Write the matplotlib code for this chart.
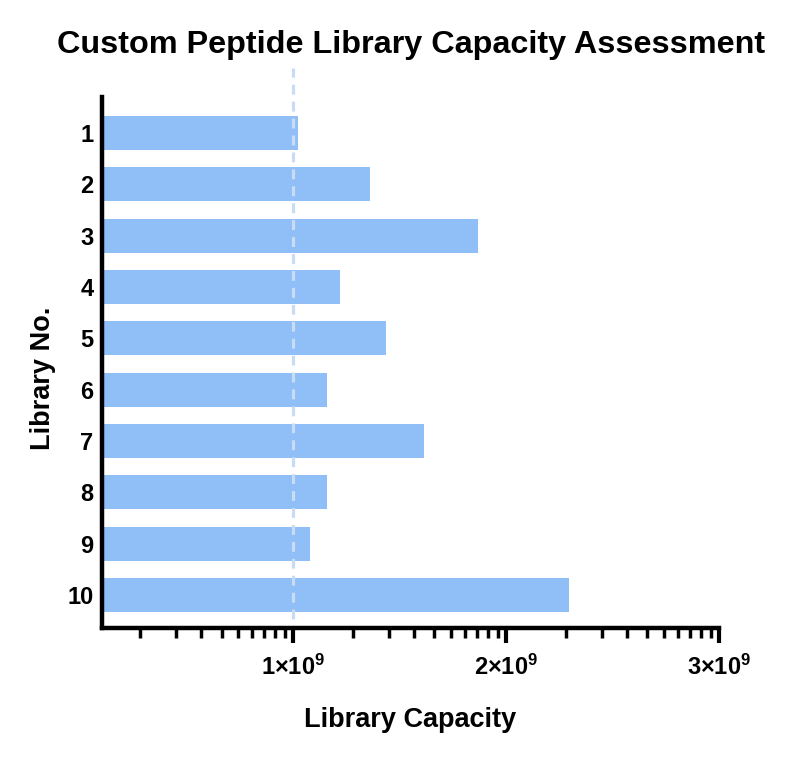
import numpy as np
import matplotlib
matplotlib.use("Agg")
import matplotlib.pyplot as plt

# dane (pojemność w jednostkach 1e9)
libraries = ["1", "2", "3", "4", "5", "6", "7", "8", "9", "10"]
capacity = np.array([1.02, 1.36, 1.865, 1.22, 1.435, 1.16, 1.615, 1.16, 1.08, 2.295]) * 1e9
threshold = 1e9
major_ticks = [1e9, 2e9, 3e9]
major_labels = [r"$\mathbf{1{\times}10^{9}}$", r"$\mathbf{2{\times}10^{9}}$", r"$\mathbf{3{\times}10^{9}}$"]

plt.rcParams["font.family"] = ["Liberation Sans", "DejaVu Sans"]
plt.rcParams["mathtext.fontset"] = "custom"
plt.rcParams["mathtext.bf"] = "Liberation Sans:bold"
plt.rcParams["mathtext.rm"] = "Liberation Sans:bold"

fig = plt.figure(figsize=(8, 7.59), dpi=100)
ax = fig.add_axes([0.1271, 0.1726, 0.772, 0.6996])

y = np.arange(1, len(libraries) + 1)
ax.barh(y, capacity, height=0.66, color="#90bef7", zorder=2)

# linia progu
ax.axvline(threshold, ymin=0.017, ymax=1.055, color="#c9dcf5", lw=2.3,
           dashes=(3.1, 2.2), clip_on=False, zorder=3)

ax.set_xlim(0.1e9, 3e9)
ax.set_ylim(10.64, 0.3)
ax.set_yticks(y)
ax.set_yticklabels(libraries, fontsize=17, fontweight="bold")

ax.set_xticks(major_ticks)
ax.set_xticklabels(major_labels, fontsize=17)
minor = [k + np.log10(1 + 0.9 * j) for k in range(3) for j in range(1, 10)]
ax.set_xticks([m * 1e9 for m in minor if m > 0.1], minor=True)

for s in ["top", "right"]:
    ax.spines[s].set_visible(False)
for s in ["left", "bottom"]:
    ax.spines[s].set_linewidth(3.2)

ax.tick_params(axis="x", which="major", length=11, width=3, pad=8)
ax.tick_params(axis="x", which="minor", length=7, width=2.5)
ax.tick_params(axis="y", length=0, pad=6)

ax.set_xlabel("Library Capacity", fontsize=19.5, fontweight="bold", va="center")
ax.xaxis.set_label_coords(0.5, -0.173)
ax.set_ylabel("Library No.", fontsize=19.5, fontweight="bold", va="center")
ax.yaxis.set_label_coords(-0.095, 0.47)

fig.text(0.514, 1 - 45 / 759, "Custom Peptide Library Capacity Assessment",
         fontsize=23.3, fontweight="bold", ha="center", va="center")

fig.savefig("out.png", dpi=100)
